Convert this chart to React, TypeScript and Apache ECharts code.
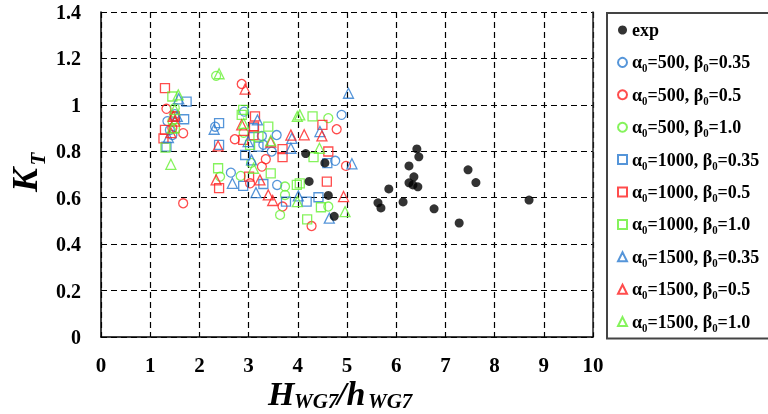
import React, { useEffect, useRef } from "react";
import * as echarts from "echarts";

// ---------- data ----------
const xMin = 0, xMax = 10, xStep = 1;
const yMin = 0, yMax = 1.4, yStep = 0.2;

const seriesNames = [
  "exp",
  "α₀=500, β₀=0.35",
  "α₀=500, β₀=0.5",
  "α₀=500, β₀=1.0",
  "α₀=1000, β₀=0.35",
  "α₀=1000, β₀=0.5",
  "α₀=1000, β₀=1.0",
  "α₀=1500, β₀=0.35",
  "α₀=1500, β₀=0.5",
  "α₀=1500, β₀=1.0",
];

const expData = [
  [4.16, 0.79], [4.55, 0.75], [4.23, 0.67], [4.62, 0.61], [4.74, 0.52],
  [5.63, 0.578], [5.69, 0.556], [5.85, 0.638], [6.14, 0.582], [6.26, 0.737],
  [6.26, 0.664], [6.34, 0.655], [6.36, 0.69], [6.42, 0.81], [6.46, 0.776],
  [6.44, 0.647], [6.77, 0.552], [7.28, 0.491], [7.46, 0.72], [7.62, 0.665],
  [8.7, 0.59],
];

const a500b035 = [
  [1.35, 0.93], [1.4, 0.892], [1.5, 0.96], [1.45, 0.87], [2.32, 0.906], [2.91, 0.971],
  [3.27, 0.866], [3.57, 0.87], [3.3, 0.828], [3.47, 0.799], [2.64, 0.708],
  [3.58, 0.655], [4.76, 0.759], [4.89, 0.957],
];
const a500b05 = [
  [1.33, 0.983], [1.67, 0.878], [1.67, 0.576], [1.5, 0.95], [1.45, 0.9], [2.86, 1.09],
  [2.72, 0.852], [3.35, 0.766], [3.27, 0.734], [3.03, 0.662], [3.69, 0.562],
  [4.79, 0.895], [4.98, 0.737], [4.28, 0.478],
];
const a500b10 = [
  [1.5, 0.987], [1.45, 0.93], [2.34, 1.125], [2.42, 0.691], [2.84, 0.694], [2.9, 0.88],
  [3.05, 0.75], [3.74, 0.648], [3.74, 0.612], [3.64, 0.526], [4.62, 0.943], [4.62, 0.562],
];
const a1000b035 = [
  [1.74, 1.014], [1.69, 0.938], [1.33, 0.82], [2.4, 0.921], [2.4, 0.828], [2.93, 0.784],
  [2.89, 0.651], [3.3, 0.659], [3.76, 0.583], [4.6, 0.749], [4.18, 0.583], [4.42, 0.602],
  [3.2, 0.82], [3.1, 0.9],
];
const a1000b05 = [
  [1.3, 1.072], [1.3, 0.892], [1.27, 0.856], [1.5, 0.95], [3.13, 0.95], [3.11, 0.906],
  [3.1, 0.87], [2.89, 0.849], [3.69, 0.809], [3.69, 0.775], [2.4, 0.641], [3.01, 0.691],
  [4.5, 0.914], [4.62, 0.799], [4.59, 0.669],
];
const a1000b10 = [
  [1.45, 1.036], [1.31, 0.816], [1.5, 0.9], [2.89, 0.978], [2.86, 0.957], [3.4, 0.906],
  [3.2, 0.863], [3.03, 0.828], [2.38, 0.727], [3.45, 0.705], [3.98, 0.655], [4.3, 0.95],
  [4.32, 0.775], [4.04, 0.662], [4.47, 0.559], [4.19, 0.507],
];
const a1500b035 = [
  [1.58, 1.026], [1.37, 0.859], [1.55, 0.95], [3.18, 0.935], [2.3, 0.895], [2.99, 0.842],
  [3.86, 0.813], [3.06, 0.763], [2.67, 0.662], [3.15, 0.622], [3.88, 0.856], [4.45, 0.885],
  [5.1, 0.746], [4.01, 0.608], [4.64, 0.512], [5.03, 1.05],
];
const a1500b05 = [
  [1.47, 0.95], [1.5, 0.93], [1.42, 0.88], [2.93, 1.068], [2.86, 0.914], [3.86, 0.87],
  [2.38, 0.823], [3.45, 0.84], [2.34, 0.677], [3.23, 0.677], [3.4, 0.612], [3.49, 0.588],
  [4.13, 0.871], [4.49, 0.866], [4.93, 0.605],
];
const a1500b10 = [
  [1.57, 1.043], [1.5, 0.98], [1.42, 0.744], [1.45, 0.9], [2.4, 1.134], [3.99, 0.95],
  [3.45, 0.846], [3.1, 0.727], [2.9, 0.92], [3.99, 0.583], [4.04, 0.957], [4.44, 0.813],
  [4.96, 0.54],
];

const allData = [
  expData, a500b035, a500b05, a500b10, a1000b035, a1000b05, a1000b10,
  a1500b035, a1500b05, a1500b10,
];

// ---------- styles ----------
const BLUE = "#2a7bcf";
const RED = "#ff1f1f";
const GREEN = "#66f033";
const colors = ["#000", BLUE, RED, GREEN, BLUE, RED, GREEN, BLUE, RED, GREEN];
const symbols = ["circle", "circle", "circle", "circle", "rect", "rect", "rect", "triangle", "triangle", "triangle"];
const SERIF = '"Liberation Serif", "Times New Roman", serif';

export default function App() {
  const ref = useRef<HTMLDivElement>(null);
  useEffect(() => {
    if (!ref.current) return;
    const chart = echarts.init(ref.current, undefined, { renderer: "svg" });
    const series = seriesNames.map((name, i) => {
      const filled = i === 0;
      return {
        name,
        type: "scatter",
        data: allData[i],
        symbol: symbols[i],
        symbolSize: filled ? 9 : symbols[i] === "triangle" ? 10 : 9,
        z: filled ? 5 : 2,
        itemStyle: filled
          ? { color: "#000" }
          : { color: "rgba(0,0,0,0)", borderColor: colors[i], borderWidth: 1.3 },
      };
    });
    chart.setOption({
      animation: false,
      grid: { left: 101, right: 175, top: 12, bottom: 77, outerBoundsMode: "none" },
      xAxis: {
        type: "value",
        min: xMin,
        max: xMax,
        interval: xStep,
        axisLine: { show: true, onZero: false, lineStyle: { color: "#000", width: 1.5 } },
        axisTick: { show: true, inside: true, length: 4, lineStyle: { color: "#000" } },
        axisLabel: {
          margin: 17,
          color: "#000",
          fontSize: 21,
          fontWeight: "bold",
          fontFamily: SERIF,
        },
        splitLine: { show: true, lineStyle: { color: "#000", type: [6, 4], width: 1.2 } },
      },
      yAxis: [
        {
          type: "value",
          min: yMin,
          max: yMax,
          interval: yStep,
          axisLine: { show: true, onZero: false, lineStyle: { color: "#000", width: 1.5 } },
          axisTick: { show: true, inside: true, length: 4, lineStyle: { color: "#000" } },
          axisLabel: {
            margin: 20,
            color: "#000",
            fontSize: 20,
            fontWeight: "bold",
            fontFamily: SERIF,
          },
          splitLine: { show: true, lineStyle: { color: "#000", type: [6, 4], width: 1.2 } },
        },
        {
          type: "value",
          position: "right",
          min: yMin,
          max: yMax,
          interval: yStep,
          axisLine: { show: true, onZero: false, lineStyle: { color: "#222", width: 1.5 } },
          axisTick: { show: false },
          axisLabel: { show: false },
          splitLine: { show: false },
        },
      ],
      legend: {
        orient: "vertical",
        left: 607,
        top: 13,
        padding: [7, 40, 7, 10],
        itemGap: 12.4,
        itemWidth: 9,
        itemHeight: 9,
        borderColor: "#444",
        borderWidth: 2,
        data: seriesNames,
        textStyle: {
          color: "#000",
          fontSize: 18,
          fontWeight: "bold",
          fontFamily: SERIF,
          lineHeight: 20,
        },
      },
      graphic: [
        // x-axis title: H_WG7 / h_WG7
        { type: "text", x: 268, y: 393, style: { text: "H", fontSize: 34, fontWeight: "bold", fontStyle: "italic", fontFamily: SERIF, fill: "#000", align: "left", verticalAlign: "middle" } },
        { type: "text", x: 294, y: 401, style: { text: "WG7", fontSize: 21, fontWeight: "bold", fontStyle: "italic", fontFamily: SERIF, fill: "#000", align: "left", verticalAlign: "middle" } },
        { type: "text", x: 337, y: 393, style: { text: "/h", fontSize: 34, fontWeight: "bold", fontStyle: "italic", fontFamily: SERIF, fill: "#000", align: "left", verticalAlign: "middle" } },
        { type: "text", x: 368, y: 401, style: { text: "WG7", fontSize: 21, fontWeight: "bold", fontStyle: "italic", fontFamily: SERIF, fill: "#000", align: "left", verticalAlign: "middle" } },
        // y-axis title: K_T
        { type: "text", x: 25, y: 180, rotation: Math.PI / 2, style: { text: "K", fontSize: 36, fontWeight: "bold", fontStyle: "italic", fontFamily: SERIF, fill: "#000", align: "center", verticalAlign: "middle" } },
        { type: "text", x: 38, y: 159, rotation: Math.PI / 2, style: { text: "T", fontSize: 21, fontWeight: "bold", fontStyle: "italic", fontFamily: SERIF, fill: "#000", align: "center", verticalAlign: "middle" } },
      ],
      series,
    });
    return () => chart.dispose();
  }, []);
  return (
    <div
      ref={ref}
      style={{ position: "fixed", left: 0, top: 0, width: 768, height: 414 }}
    />
  );
}
